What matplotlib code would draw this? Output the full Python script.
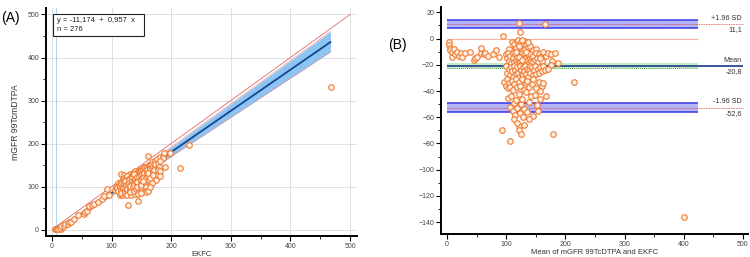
"""Passing-Bablok style scatter (A) and Bland-Altman plot (B): mGFR 99TcmDTPA vs EKFC."""
import matplotlib
matplotlib.use("Agg")
import matplotlib.pyplot as plt
import numpy as np
from matplotlib.patches import Rectangle
from matplotlib.ticker import MultipleLocator

plt.rcParams["font.family"] = ["Liberation Sans", "DejaVu Sans"]

# Bland-Altman coordinates: mean of both methods, difference (mGFR - EKFC)
ba_mean = [
    3, 4, 5, 6, 8, 9, 12, 14, 17, 20, 23, 25, 31, 39, 45, 48, 51, 57, 58, 62,
    65, 70, 78, 83, 88, 94,
    122, 166, 124, 110, 113, 118, 120, 125, 128, 130, 133, 127, 135, 140, 117,
    108, 104, 131, 145, 150, 137, 122, 126,
    99, 101, 103, 105, 107, 109, 111, 112, 114, 115, 116, 118, 119, 120, 121,
    123, 124, 125, 126, 127, 128, 129, 130, 131, 132, 133, 134, 135, 136, 137,
    138, 139, 140, 141, 142, 143, 144, 146, 148, 150, 152, 154, 156, 158, 160,
    163, 167, 170, 175, 178, 183, 188, 176, 158, 117, 122, 127, 133,
    100, 102, 104, 106, 108, 110, 112, 113, 115, 117, 119, 120, 122, 123, 125,
    126, 128, 129, 131, 132, 134, 135, 137, 138, 140, 141, 143, 145, 147, 149,
    151, 153, 155, 158, 160, 163, 166, 170,
    97, 99, 101, 103, 105, 107, 110, 112, 114, 116, 118, 121, 124, 127, 130,
    133, 136, 139, 143, 146, 150, 155, 160, 163, 158,
    103, 106, 109, 111, 113, 115, 117, 119, 121, 123, 125, 127, 130, 133, 136,
    139, 142, 145, 148, 152, 158, 168, 153, 138, 113, 128,
    93, 106, 122, 122, 125, 179, 118, 131,
    214, 400,
]
ba_diff = [
    -3, -5, -7, -9, -14, -10, -8, -12, -10, -13, -11, -14, -11, -10, -16, -15, -14, -11, -7, -12,
    -11, -13, -12, -9, -14, 2,
    12, 11, 5, -3, -4, -2, -1, -3, -4, -2, -5, -8, -7, -6, -7,
    -9, -8, -9, -9, -8, -3, -6, -1,
    -12, -15, -11, -17, -13, -19, -11, -15, -18, -12, -16, -14, -19, -11, -17,
    -13, -18, -15, -11, -19, -14, -17, -12, -16, -19, -13, -15, -18, -11, -16,
    -13, -19, -15, -12, -17, -14, -19, -13, -16, -11, -15, -18, -12, -14, -17,
    -10, -13, -11, -12, -17, -11, -19, -20, -15, -10, -14, -16, -10,
    -21, -26, -23, -28, -22, -25, -29, -21, -24, -27, -22, -26, -29, -21, -24,
    -27, -22, -28, -25, -21, -27, -23, -29, -24, -21, -26, -22, -28, -24, -21,
    -27, -23, -26, -22, -25, -21, -24, -23,
    -33, -36, -31, -38, -34, -37, -32, -39, -35, -31, -37, -33, -36, -31, -39,
    -34, -32, -37, -35, -31, -38, -33, -36, -34, -40,
    -45, -52, -44, -55, -49, -58, -47, -53, -42, -57, -50, -46, -54, -41, -56,
    -48, -44, -59, -43, -51, -46, -44, -55, -61, -61, -60,
    -70, -78, -67, -70, -73, -73, -64, -66,
    -33, -136,
]

# fitted line and its confidence band (panel A)
intercept, slope = -11.174, 0.957
line_x = [12, 467]
band_lo = [-1.5, 413]
band_hi = [2.5, 460]

# limits of agreement (panel B)
mean_diff = -20.8
loa_hi = 11.1
loa_lo = -52.6
ci_hi = [7.7, 14.5]
ci_mean = [-18.9, -22.7]
ci_lo = [-55.9, -49.3]

ba_mean = np.array(ba_mean, dtype=float)
ba_diff = np.array(ba_diff, dtype=float)
ekfc = ba_mean - ba_diff / 2
mgfr = ba_mean + ba_diff / 2

ORANGE = "#f07a30"
TICK_FS = 5
LABEL_FS = 5.5

fig = plt.figure(figsize=(7.5, 2.57), dpi=100)
axA = fig.add_axes([0.0613, 0.0817, 0.415, 0.887])
axB = fig.add_axes([0.588, 0.0895, 0.409, 0.883])


def style_axes(ax):
    for s in ("top", "right"):
        ax.spines[s].set_visible(False)
    for s in ("left", "bottom"):
        ax.spines[s].set_linewidth(1.4)
    ax.tick_params(which="major", direction="out", length=3.5, width=0.8,
                   labelsize=TICK_FS, labelcolor="#444", pad=1.5)
    ax.tick_params(which="minor", direction="out", length=2, width=0.6)


# ---- (A) ----
axA.set_xlim(-10, 512)
axA.set_ylim(-15, 515)
axA.xaxis.set_major_locator(MultipleLocator(100))
axA.xaxis.set_minor_locator(MultipleLocator(50))
axA.yaxis.set_major_locator(MultipleLocator(100))
axA.yaxis.set_minor_locator(MultipleLocator(50))
axA.grid(which="major", color="#dcdcdc", lw=0.6)
axA.set_axisbelow(True)
style_axes(axA)

axA.axvline(6.5, color="#b0d4f4", lw=0.8, zorder=1)
axA.plot([0, 500], [0, 500], color="#e06868", lw=0.6, zorder=2)
axA.fill_between(line_x, band_lo, band_hi, color="#8cc4f4", lw=0, zorder=2)
axA.plot(line_x, band_lo, color="#e09a9a", lw=0.5, zorder=2)
axA.plot(line_x, band_hi, color="#e09a9a", lw=0.5, zorder=2)
lx = np.array(line_x, dtype=float)
axA.plot(lx, intercept + slope * lx, color="#17468e", lw=1.3, zorder=3)
axA.scatter(ekfc, mgfr, s=16, facecolor="#fff0e6", edgecolor=ORANGE, lw=0.8, zorder=4)

axA.add_patch(Rectangle((0.0215, 0.877), 0.2935, 0.095, transform=axA.transAxes,
                        fill=True, facecolor="white", edgecolor="#222", lw=0.8, zorder=5))
axA.text(0.035, 0.947, "y = -11,174  +  0,957  x", transform=axA.transAxes,
         fontsize=5.5, va="center", ha="left", color="#222", zorder=6)
axA.text(0.035, 0.908, "n = 276", transform=axA.transAxes,
         fontsize=5.5, va="center", ha="left", color="#222", zorder=6)

axA.set_xlabel("EKFC", fontsize=LABEL_FS, color="#333", labelpad=0.5)
axA.set_ylabel("mGFR 99TcmDTPA", fontsize=6.2, color="#333", labelpad=5)

# ---- (B) ----
axB.set_xlim(-10, 508)
axB.set_ylim(-149, 24)
axB.xaxis.set_major_locator(MultipleLocator(100))
axB.xaxis.set_minor_locator(MultipleLocator(50))
axB.yaxis.set_major_locator(MultipleLocator(20))
axB.yaxis.set_minor_locator(MultipleLocator(10))
style_axes(axB)

band_end = 424
axB.hlines(0, 0, band_end, color="#f4b4a4", lw=0.8, zorder=1)
for lo, hi in (ci_hi, ci_lo):
    axB.fill_between([0, band_end], lo, hi, color="#b4b4f6", lw=0, zorder=1)
    axB.hlines([lo, hi], 0, band_end, color="#3838e8", lw=1.1, zorder=2)
axB.fill_between([0, band_end], ci_mean[0], ci_mean[1], color="#c4ecc4", lw=0, zorder=1)
axB.hlines(ci_mean[1], 0, band_end, color="#3a9a3a", lw=0.7, ls=(0, (1, 1)), zorder=2)
axB.hlines(mean_diff, 0, 500, color="#1a3a8a", lw=1.2, zorder=3)
axB.hlines([loa_hi, loa_lo], 0, 500, color="#d04040", lw=0.6, ls=(0, (1, 1)), zorder=3)

axB.scatter(ba_mean, ba_diff, s=16, facecolor="#fff0e6", edgecolor=ORANGE, lw=0.8, zorder=4)

for val, top, bottom in ((loa_hi, "+1.96 SD", "11,1"),
                         (mean_diff, "Mean", "-20,8"),
                         (loa_lo, "-1.96 SD", "-52,6")):
    axB.annotate(top, xy=(498, val), xytext=(0, 4), textcoords="offset points",
                 ha="right", va="center", fontsize=5.2, color="#333")
    axB.annotate(bottom, xy=(498, val), xytext=(0, -4.3), textcoords="offset points",
                 ha="right", va="center", fontsize=5.2, color="#333")

axB.set_xlabel("Mean of mGFR 99TcDTPA and EKFC", fontsize=LABEL_FS, color="#333", labelpad=0.5)

fig.text(0.002, 0.93, "(A)", fontsize=10, va="center", ha="left")
fig.text(0.517, 0.825, "(B)", fontsize=10, va="center", ha="left")

fig.savefig("out.png", dpi=100)
